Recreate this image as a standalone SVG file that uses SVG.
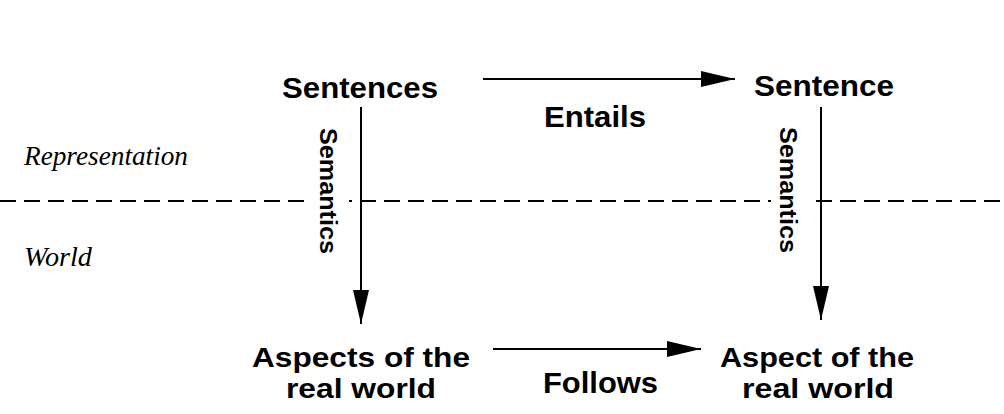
<svg xmlns="http://www.w3.org/2000/svg" width="1004" height="414" viewBox="0 0 1004 414">
<defs>
<style>
.lbl{font-family:"Liberation Sans",Arial,sans-serif;font-weight:bold;fill:#000}
.big{font-size:30px}
.two{font-size:28px}
.sem{font-size:23px}
.reg{font-family:"Liberation Serif","Times New Roman",serif;font-style:italic;font-size:27px;fill:#000}
.conn{stroke:#000;stroke-width:2;fill:none}
</style>
<marker id="ah" markerUnits="userSpaceOnUse" markerWidth="36" markerHeight="18" refX="34" refY="8" orient="auto">
<path d="M0,0 L34,8 L0,16 Z" fill="#000"/>
</marker>
</defs>
<rect width="1004" height="414" fill="#fff"/>
<g id="divider">
<line x1="0" y1="201" x2="1004" y2="201" stroke="#000" stroke-width="2" stroke-dasharray="16 8"/>
<rect x="305" y="190" width="44" height="22" fill="#fff"/>
<rect x="771" y="190" width="41" height="22" fill="#fff"/>
</g>
<g id="region-labels">
<text class="reg" x="24" y="165" textLength="164" lengthAdjust="spacingAndGlyphs">Representation</text>
<text class="reg" x="24" y="266" textLength="68" lengthAdjust="spacingAndGlyphs">World</text>
</g>
<g id="connectors">
<line class="conn" x1="483" y1="79" x2="735" y2="79" marker-end="url(#ah)"/>
<line class="conn" x1="493" y1="349" x2="701" y2="349" marker-end="url(#ah)"/>
<line class="conn" x1="361" y1="107" x2="361" y2="324" marker-end="url(#ah)"/>
<line class="conn" x1="821" y1="107" x2="821" y2="320" marker-end="url(#ah)"/>
<text class="lbl big" x="544" y="127" textLength="102" lengthAdjust="spacingAndGlyphs">Entails</text>
<text class="lbl big" x="543" y="393" textLength="115" lengthAdjust="spacingAndGlyphs">Follows</text>
<text class="lbl sem" transform="translate(320,128) rotate(90)" textLength="126" lengthAdjust="spacingAndGlyphs">Semantics</text>
<text class="lbl sem" transform="translate(780,127) rotate(90)" textLength="126" lengthAdjust="spacingAndGlyphs">Semantics</text>
</g>
<g id="node-sentences">
<text class="lbl big" x="282" y="98" textLength="156" lengthAdjust="spacingAndGlyphs">Sentences</text>
</g>
<g id="node-sentence">
<text class="lbl big" x="754" y="96" textLength="140" lengthAdjust="spacingAndGlyphs">Sentence</text>
</g>
<g id="node-aspects">
<text class="lbl two" x="252" y="367" textLength="218" lengthAdjust="spacingAndGlyphs">Aspects of the</text>
<text class="lbl two" x="286" y="398" textLength="150" lengthAdjust="spacingAndGlyphs">real world</text>
</g>
<g id="node-aspect">
<text class="lbl two" x="720" y="367" textLength="194" lengthAdjust="spacingAndGlyphs">Aspect of the</text>
<text class="lbl two" x="742" y="398" textLength="152" lengthAdjust="spacingAndGlyphs">real world</text>
</g>
</svg>
